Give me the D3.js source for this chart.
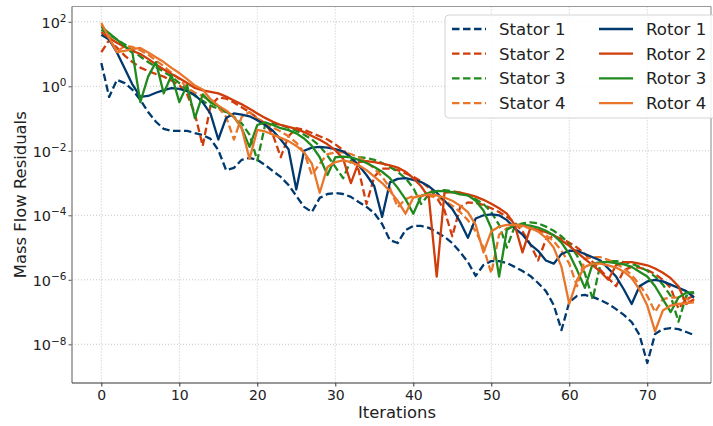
<!DOCTYPE html>
<html>
<head>
<meta charset="utf-8">
<script src="https://cdn.jsdelivr.net/npm/d3@7"></script>
<style>
  body { margin: 0; background: #fff; }
  text { font-family: "DejaVu Sans", sans-serif; fill: #222; }
</style>
</head>
<body>
<div class="chart"></div>
<script>
'use strict';

const W = 713, H = 426;
const plot = {left: 72, right: 711, top: 6.5, bottom: 383};

// iteration numbers, one per residual sample
const iterations = d3.range(0, 77);
const xTicks = [0, 10, 20, 30, 40, 50, 60, 70];
const yTickExp = [2, 0, -2, -4, -6, -8];

// residuals, stored as log10 exponents
const stator1Log = [0.72, -0.33, 0.2, 0.1, -0.11, -0.42, -0.8, -1.1, -1.32, -1.38,
  -1.38, -1.38, -1.45, -1.51, -1.63, -1.98, -2.6, -2.53, -2.28, -2.22,
  -2.28, -2.44, -2.63, -2.81, -3.06, -3.4, -3.74, -3.9, -3.46, -3.34,
  -3.31, -3.34, -3.43, -3.59, -3.74, -3.93, -4.27, -4.77, -4.86, -4.46,
  -4.33, -4.33, -4.39, -4.52, -4.67, -4.86, -5.14, -5.45, -5.88, -5.54,
  -5.42, -5.42, -5.48, -5.6, -5.73, -5.88, -6.1, -6.35, -6.78, -7.56,
  -6.69, -6.5, -6.47, -6.53, -6.63, -6.75, -6.91, -7.09, -7.31, -7.71,
  -8.58, -7.68, -7.53, -7.5, -7.53, -7.62, -7.71];

const stator2Log = [1.06, 1.43, 1.2, 0.95, 0.75, 0.58, 0.47, 0.38, 0.3, 0.18,
  0.04, -0.25, -0.85, -1.85, -0.6, -0.35, -0.38, -0.5, -0.65, -0.8,
  -0.98, -1.15, -1.5, -2.2, -1.55, -1.3, -1.35, -1.45, -1.55, -1.65,
  -1.8, -1.98, -2.2, -2.6, -3.65, -2.8, -2.55, -2.55, -2.6, -2.7,
  -2.8, -2.95, -3.15, -3.45, -3.85, -4.65, -3.75, -3.6, -3.62, -3.68,
  -3.78, -3.9, -4.05, -4.22, -4.5, -4.9, -5.4, -4.75, -4.65, -4.72,
  -4.85, -5.0, -5.2, -5.45, -5.7, -5.95, -6.2, -5.7, -5.6, -5.62,
  -5.7, -5.82, -6.0, -6.25, -6.9, -6.6, -6.5];

const stator3Log = [1.75, 1.6, 1.45, 1.3, 1.12, 0.92, 0.75, 0.6, 0.45, 0.3,
  0.1, -0.1, -0.3, -0.45, -0.6, -0.7, -0.8, -0.95, -1.15, -1.5,
  -2.3, -1.2, -1.15, -1.2, -1.28, -1.38, -1.5, -1.65, -1.85, -2.15,
  -2.5, -2.85, -2.3, -2.2, -2.22, -2.28, -2.38, -2.5, -2.65, -2.85,
  -3.15, -3.65, -3.35, -3.25, -3.22, -3.25, -3.3, -3.38, -3.5, -3.65,
  -3.9, -4.3, -5.0, -4.35, -4.25, -4.22, -4.25, -4.35, -4.48, -4.65,
  -4.9, -5.25, -5.8, -6.6, -5.5, -5.42, -5.42, -5.45, -5.5, -5.6,
  -5.72, -5.9, -6.15, -6.5, -7.3, -6.5, -6.4];

const stator4Log = [1.9, 1.55, 1.07, 1.25, 1.22, 1.12, 0.98, 0.8, 0.62, 0.42,
  0.22, -0.05, -0.2, -0.3, -0.48, -0.65, -0.95, -1.65, -0.95, -0.8,
  -1.0, -1.15, -1.28, -1.4, -1.55, -1.75, -2.05, -2.75, -2.4, -2.1,
  -2.05, -2.05, -2.1, -2.2, -2.35, -2.55, -2.8, -3.15, -3.75, -3.5,
  -3.4, -3.4, -3.4, -3.45, -3.55, -3.7, -3.9, -4.15, -4.5, -5.0,
  -5.8, -4.6, -4.4, -4.35, -4.35, -4.4, -4.5, -4.62, -4.8, -5.1,
  -5.5, -6.2, -5.35, -5.3, -5.3, -5.38, -5.5, -5.65, -5.85, -6.15,
  -6.5, -7.0, -6.6, -6.55, -6.55, -6.6, -6.65];

const rotor1Log = [1.6, 1.45, 1.05, 0.55, 0.05, -0.33, -0.3, -0.2, -0.12, -0.06,
  -0.08, -0.15, -0.27, -0.5, -0.85, -1.65, -0.98, -0.84, -0.88, -0.93,
  -1.05, -1.2, -1.38, -1.65, -1.95, -3.2, -2.0, -1.9, -1.88, -1.9,
  -1.95, -2.02, -2.2, -2.45, -2.75, -3.1, -4.05, -2.98, -2.87, -2.85,
  -2.9, -2.97, -3.1, -3.3, -3.55, -3.8, -4.2, -4.7, -4.1, -4.0,
  -3.97, -4.0, -4.15, -4.4, -4.6, -4.9, -5.1, -5.4, -5.5, -5.2,
  -5.1, -5.1, -5.2, -5.3, -5.4, -5.65, -5.9, -6.3, -6.75, -6.2,
  -6.05, -6.0, -6.05, -6.15, -6.25, -6.35, -6.55];

const rotor2Log = [1.68, 1.5, 1.35, 1.22, 1.1, 1.0, 0.85, 0.68, 0.52, 0.38,
  0.25, 0.1, -0.05, -0.13, -0.17, -0.22, -0.32, -0.44, -0.56, -0.7,
  -0.84, -0.98, -1.1, -1.2, -1.26, -1.32, -1.42, -1.54, -1.66, -1.8,
  -1.98, -2.25, -3.0, -2.35, -2.32, -2.35, -2.4, -2.45, -2.52, -2.65,
  -2.85, -3.1, -3.45, -5.9, -3.3, -3.28, -3.3, -3.35, -3.42, -3.52,
  -3.64, -3.78, -3.95, -4.3, -5.15, -4.4, -4.45, -4.52, -4.62, -4.78,
  -4.95, -5.15, -5.35, -5.55, -5.75, -6.0, -5.55, -5.45, -5.45, -5.5,
  -5.55, -5.65, -5.78, -5.95, -6.2, -6.75, -6.6];

const rotor3Log = [1.84, 1.65, 1.45, 1.25, 1.03, -0.49, 0.3, 0.75, -0.22, 0.35,
  -0.49, 0.04, -0.99, -0.25, -0.5, -0.62, -0.78, -0.95, -1.3, -1.88,
  -1.2, -1.12, -1.2, -1.3, -1.36, -1.46, -1.62, -1.85, -2.2, -2.75,
  -2.2, -2.18, -2.2, -2.28, -2.38, -2.5, -2.65, -2.85, -3.15, -3.5,
  -3.95, -3.4, -3.3, -3.25, -3.25, -3.28, -3.35, -3.38, -3.55, -3.85,
  -4.4, -5.9, -4.45, -4.3, -4.3, -4.32, -4.38, -4.48, -4.62, -4.85,
  -5.2, -5.7, -6.25, -5.5, -5.45, -5.45, -5.48, -5.52, -5.6, -5.75,
  -5.9, -6.2, -6.6, -7.0, -6.55, -6.4, -6.38];

const rotor4Log = [1.96, 1.5, 1.06, 1.1, 1.15, 1.19, 1.05, 0.9, 0.75, 0.57,
  0.41, 0.22, 0.02, -0.1, -0.4, -0.6, -0.75, -0.95, -1.3, -2.25,
  -1.35, -1.4, -1.5, -1.6, -1.7, -1.85, -2.05, -2.4, -3.3, -2.5,
  -2.35, -2.3, -2.35, -2.45, -2.6, -2.8, -3.0, -3.25, -3.55, -3.95,
  -3.45, -3.4, -3.35, -3.38, -3.45, -3.55, -3.7, -3.9, -4.3, -5.15,
  -4.5, -4.35, -4.3, -4.3, -4.32, -4.4, -4.5, -4.7, -5.0, -5.6,
  -6.75, -6.0, -5.6, -5.5, -5.5, -5.55, -5.62, -5.75, -5.95, -6.3,
  -6.8, -7.6, -6.95, -6.8, -6.75, -6.72, -6.7];

const seriesNames = ['Stator 1', 'Stator 2', 'Stator 3', 'Stator 4',
  'Rotor 1', 'Rotor 2', 'Rotor 3', 'Rotor 4'];
const seriesLogs = [stator1Log, stator2Log, stator3Log, stator4Log,
  rotor1Log, rotor2Log, rotor3Log, rotor4Log];

const colors = ['#00396e', '#d03c0a', '#218a1e', '#e8762b'];

const series = seriesNames.map((name, k) => ({
  name,
  color: colors[k % 4],
  dashed: k < 4,
  points: seriesLogs[k].map((e, i) => ({it: iterations[i], value: Math.pow(10, e)}))
}));

const xScale = d3.scaleLinear()
  .domain([-3.76, 78.17])
  .range([plot.left, plot.right]);

const yScale = d3.scaleLog()
  .domain([Math.pow(10, -9.2), Math.pow(10, 2.474)])
  .range([plot.bottom, plot.top]);

const svg = d3.select('.chart').append('svg')
  .attr('width', W)
  .attr('height', H);

// grid
const grid = svg.append('g').attr('class', 'grid');
grid.selectAll('.gx').data(xTicks).enter().append('line')
  .attr('x1', d => xScale(d)).attr('x2', d => xScale(d))
  .attr('y1', plot.top).attr('y2', plot.bottom)
  .attr('stroke', '#b8b8b8').attr('stroke-width', 0.8)
  .attr('stroke-dasharray', '1,2');
grid.selectAll('.gy').data(yTickExp).enter().append('line')
  .attr('x1', plot.left).attr('x2', plot.right)
  .attr('y1', d => yScale(Math.pow(10, d))).attr('y2', d => yScale(Math.pow(10, d)))
  .attr('stroke', '#b8b8b8').attr('stroke-width', 0.8)
  .attr('stroke-dasharray', '1,2');

// lines
svg.append('defs').append('clipPath').attr('id', 'clip')
  .append('rect')
  .attr('x', plot.left).attr('y', plot.top)
  .attr('width', plot.right - plot.left).attr('height', plot.bottom - plot.top);

const line = d3.line()
  .x(d => xScale(d.it))
  .y(d => yScale(d.value));

svg.append('g').attr('clip-path', 'url(#clip)')
  .selectAll('path').data(series).enter().append('path')
  .attr('d', d => line(d.points))
  .attr('fill', 'none')
  .attr('stroke', d => d.color)
  .attr('stroke-width', 2.3)
  .attr('stroke-linejoin', 'round')
  .attr('stroke-dasharray', d => d.dashed ? '7.5,3.5' : null);

// axes
const xAxis = svg.append('g')
  .attr('transform', `translate(0,${plot.bottom})`)
  .call(d3.axisBottom(xScale).tickValues(xTicks).tickSize(3.5).tickPadding(4));
xAxis.select('.domain').remove();
xAxis.selectAll('line').attr('stroke', '#333');
xAxis.selectAll('text')
  .style('font-family', '"DejaVu Sans", sans-serif')
  .style('font-size', '14px')
  .attr('fill', '#222');

const yAxis = svg.append('g')
  .attr('transform', `translate(${plot.left},0)`)
  .call(d3.axisLeft(yScale).tickValues(yTickExp.map(e => Math.pow(10, e))).tickSize(3.5).tickFormat(''));
yAxis.select('.domain').remove();
yAxis.selectAll('line').attr('stroke', '#555');

yAxis.selectAll('.tick').each(function (d) {
  const e = Math.round(Math.log10(d));
  const t = d3.select(this).append('text')
    .attr('x', -5.5).attr('dy', '0.38em')
    .attr('text-anchor', 'end')
    .style('font-size', '14.4px');
  t.append('tspan').text('10');
  t.append('tspan')
    .attr('dy', '-0.55em')
    .style('font-size', '10.5px')
    .text(e < 0 ? '\u2212' + Math.abs(e) : String(e));
});

// frame
svg.append('line').attr('x1', plot.left).attr('x2', plot.right)
  .attr('y1', plot.top).attr('y2', plot.top).attr('stroke', '#999').attr('stroke-width', 1.2);
svg.append('line').attr('x1', plot.right).attr('x2', plot.right)
  .attr('y1', plot.top).attr('y2', plot.bottom).attr('stroke', '#999').attr('stroke-width', 1.2);
svg.append('line').attr('x1', plot.left).attr('x2', plot.left)
  .attr('y1', plot.top).attr('y2', plot.bottom).attr('stroke', '#888').attr('stroke-width', 1.4);
svg.append('line').attr('x1', plot.left).attr('x2', plot.right)
  .attr('y1', plot.bottom).attr('y2', plot.bottom).attr('stroke', '#333').attr('stroke-width', 1.2);

// axis titles
svg.append('text')
  .attr('x', 397).attr('y', 418)
  .attr('text-anchor', 'middle')
  .style('font-size', '16.4px')
  .text('Iterations');

svg.append('text')
  .attr('transform', `translate(26,${(plot.top + plot.bottom) / 2}) rotate(-90)`)
  .attr('text-anchor', 'middle')
  .style('font-size', '16.4px')
  .text('Mass Flow Residuals');

// legend, two columns filled top to bottom
const legend = svg.append('g').attr('class', 'legend');
legend.append('rect')
  .attr('x', 445).attr('y', 15).attr('width', 275).attr('height', 103)
  .attr('rx', 4)
  .attr('fill', 'rgba(255,255,255,0.85)')
  .attr('stroke', '#d4d4d4');

const item = legend.selectAll('.item').data(series).enter().append('g')
  .attr('transform', (d, k) => `translate(${k < 4 ? 452 : 599},${29 + (k % 4) * 24.7})`);
item.append('line')
  .attr('x1', 0).attr('x2', 34)
  .attr('stroke', d => d.color)
  .attr('stroke-width', 2.3)
  .attr('stroke-dasharray', d => d.dashed ? '7.5,3.5' : null);
item.append('text')
  .attr('x', 47).attr('dy', '0.36em')
  .style('font-size', '16.6px')
  .text(d => d.name);
</script>
</body>
</html>
